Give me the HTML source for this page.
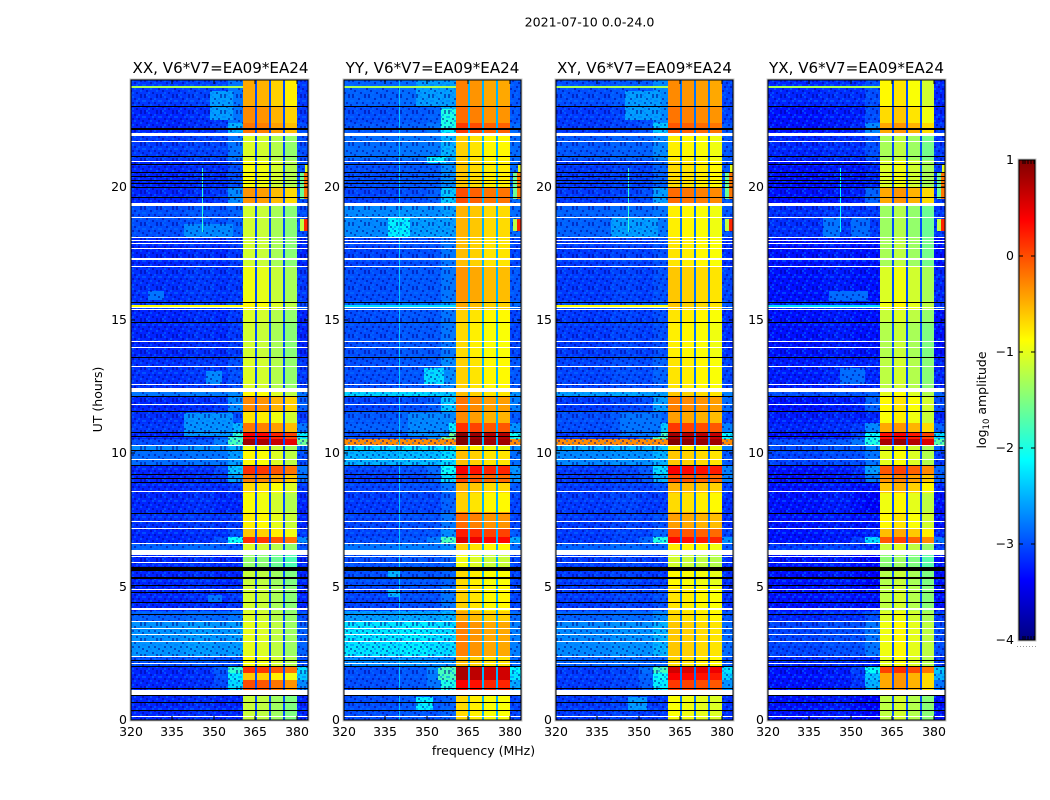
<!DOCTYPE html>
<html>
<head>
<meta charset="utf-8">
<title>2021-07-10 0.0-24.0</title>
<style>
html,body{margin:0;padding:0;background:#fff;width:1050px;height:800px;overflow:hidden}
svg{display:block}
text{font-family:"DejaVu Sans","Liberation Sans",sans-serif;fill:#000}
</style>
</head>
<body>
<svg id="fig" xmlns="http://www.w3.org/2000/svg" width="1050" height="800" viewBox="0 0 1050 800">
  <text x="589.5" y="26.5" font-size="12.6" text-anchor="middle">2021-07-10 0.0-24.0</text>
  <text x="220.5" y="73" font-size="15.1" text-anchor="middle">XX, V6*V7=EA09*EA24</text>
  <text x="432.5" y="73" font-size="15.1" text-anchor="middle">YY, V6*V7=EA09*EA24</text>
  <text x="644.5" y="73" font-size="15.1" text-anchor="middle">XY, V6*V7=EA09*EA24</text>
  <text x="856.5" y="73" font-size="15.1" text-anchor="middle">YX, V6*V7=EA09*EA24</text>
  <defs>
    <linearGradient id="jet-gradient" x1="0" y1="1" x2="0" y2="0"></linearGradient>
    <pattern id="speckle" x="0" y="0" width="16" height="16" patternUnits="userSpaceOnUse">
      <g fill="#000090" fill-opacity="0.5" shape-rendering="crispEdges">
        <rect x="0" y="0" width="2" height="2"/><rect x="6" y="2" width="2" height="2"/><rect x="12" y="0" width="2" height="2"/>
        <rect x="4" y="6" width="2" height="2"/><rect x="10" y="6" width="2" height="2"/><rect x="2" y="10" width="2" height="2"/>
        <rect x="14" y="8" width="2" height="2"/><rect x="8" y="12" width="2" height="2"/><rect x="0" y="14" width="2" height="2"/>
        <rect x="12" y="14" width="2" height="2"/>
      </g>
      <g fill="#0078ff" fill-opacity="0.5" shape-rendering="crispEdges">
        <rect x="4" y="0" width="2" height="2"/><rect x="10" y="2" width="2" height="2"/><rect x="0" y="4" width="2" height="2"/>
        <rect x="8" y="4" width="2" height="2"/><rect x="14" y="4" width="2" height="2"/><rect x="6" y="8" width="2" height="2"/>
        <rect x="2" y="14" width="2" height="2"/><rect x="12" y="10" width="2" height="2"/><rect x="4" y="12" width="2" height="2"/>
      </g>
    </pattern>
  </defs>
  <g id="panels"></g>
  <text x="483.5" y="755" font-size="12.5" text-anchor="middle">frequency (MHz)</text>
  <text transform="translate(102,399.5) rotate(-90)" font-size="12.5" text-anchor="middle">UT (hours)</text>
  <g id="colorbar"></g>
  <text transform="translate(986,400) rotate(-90)" font-size="12.5" text-anchor="middle">log<tspan font-size="8.5" dy="3">10</tspan><tspan dy="-3"> amplitude</tspan></text>
</svg>
<script>
// Axis tick labels
const freqTicks = [320, 335, 350, 365, 380];
const utTicks = [0, 5, 10, 15, 20];
const cbarTicks = [1, 0, -1, -2, -3, -4];
const cbarMinorTicks = [1, 2, 3, 4, 5];

// Frequency structure of every heatmap row (MHz)
const freqEdges = [320, 340, 350, 355, 360.6, 364.9, 365.7, 370, 370.8, 375, 375.8, 380.1, 384];

// Time blocks of the heatmap (UT hours)
const utEdges = [0, 1.1, 1.5, 1.75, 2, 2.4, 3.7, 4.1, 5, 5.6, 6.2, 6.6, 6.85, 7.15, 7.8, 8.5, 8.9, 9.2, 9.55, 10.1, 10.27, 10.55, 10.8, 11.15, 11.55, 12.1, 12.4, 13.6, 14.9, 15.4, 15.7, 17, 18.1, 19.3, 19.95, 21, 22, 22.4, 23, 24];

// log10 amplitude in the 360-380 MHz band, one per time block
const bandXX = [-1.2, -.05, -.65, .1, -.95, -1.05, -1.1, -1.15, -1.2, -1.45, -1.1, .1, -.65, -.85, -.95, -.75, -.3, .1, -.9, -1, .8, .35, -.25, -.8, -.35, -.9, -1.1, -1.15, -1.1, -.9, -1, -1.15, -1.15, -.4, -.95, -1.1, -.25, -.35, -.5];
const bandYY = [-.85, .25, .65, .65, -.7, -.4, -.6, -.8, -.85, -1.1, -.8, .4, .1, -.3, -.8, -.65, -.1, .25, -.7, -.9, .9, .8, 0, -.45, -.35, -.7, -.8, -.85, -.8, -.6, -.5, -.7, -.65, -.15, -.75, -.8, -.05, -.3, -.4];
const bandXY = [-1, 0, .3, .5, -.8, -.7, -.8, -.85, -.95, -1.2, -.9, .25, -.1, -.5, -.8, -.6, -.1, .3, -.7, -.9, .9, .7, 0, -.5, -.35, -.7, -.85, -.9, -.85, -.7, -.7, -.85, -.9, -.25, -.8, -.9, -.15, -.3, -.4];
const bandYX = [-1.2, -.45, -.45, .05, -1, -.95, -1.05, -1.2, -1.25, -1.45, -1.15, -.05, -.55, -.85, -.95, -.6, -.35, -.05, -1, -1.05, .8, .3, -.45, -.9, -.85, -1, -1.2, -1.25, -1.15, -.95, -1.05, -1.3, -1.35, -.45, -1.05, -1.3, -.45, -.7, -.85];

// log10 amplitude of the 320-355 MHz background, one per time block
const backXX = [-3.2, -3.2, -3.2, -3.2, -3, -2.65, -2.9, -3.2, -3.2, -3.2, -2.9, -3.2, -3.2, -3.15, -3.2, -3.2, -3.2, -3.2, -2.85, -2.7, -3, -3.2, -3.1, -3.15, -3.2, -2.8, -3.15, -3.2, -3.2, -3.1, -3.15, -3.2, -3, -3.2, -3.2, -3.1, -3.2, -3.2, -3.1];
const backYY = [-3, -3, -3, -3, -2.7, -2.25, -2.6, -3.05, -3, -3, -2.8, -3, -3.05, -3.05, -3.1, -3.05, -3.1, -3.05, -2.5, -2.3, -.3, -3, -2.9, -2.95, -3.05, -2.35, -3, -3, -3, -2.9, -3, -3.05, -2.7, -3.05, -3, -2.85, -2.95, -3, -2.9];
const backXY = [-3.1, -3.1, -3.1, -3.1, -2.9, -2.7, -2.9, -3.1, -3.1, -3.1, -2.9, -3.1, -3.1, -3.1, -3.1, -3.1, -3.1, -3.1, -2.7, -2.5, -.3, -3.1, -3, -3, -3.1, -2.6, -3.05, -3.1, -3.1, -3, -3.1, -3.1, -2.9, -3.1, -3.1, -2.95, -3.1, -3.1, -3];
const backYX = [-3.3, -3.3, -3.3, -3.3, -3.2, -3.05, -3.2, -3.3, -3.3, -3.3, -3.1, -3.3, -3.3, -3.3, -3.3, -3.3, -3.3, -3.3, -3.05, -3, -3, -3.3, -3.2, -3.25, -3.3, -3, -3.25, -3.3, -3.3, -3.2, -3.3, -3.3, -3.15, -3.3, -3.3, -3.2, -3.3, -3.3, -3.2];

// log10 amplitude just below the band and above it, one per time block
const shoulderLevels = [-3.2, -2.3, -2.2, -1.9, -3, -2.6, -2.8, -3.1, -3.2, -3.2, -3, -2.1, -3, -3.1, -3.2, -3.1, -2.6, -2.4, -2.6, -2.5, -1.8, -1.9, -2.5, -3, -2.7, -2.7, -3, -3.1, -3.1, -3, -3.1, -3.1, -2.9, -2.7, -3, -2.8, -2.5, -2.8, -2.8];
const edgeLevels = [-3.2, -2.7, -2.4, -2.3, -3, -2.9, -3, -3.2, -3.2, -3.2, -3, -2.7, -3.1, -3.2, -3.2, -3.1, -2.8, -2.8, -3, -2.8, -1.6, -2.2, -2.8, -3.1, -2.9, -2.8, -3.1, -3.2, -3.2, -3, -3.1, -3.2, -3, -3, -3, -3, -3, -3.1, -3.1];

// Per-panel offsets: XX, YY, XY, YX
const shoulderOffsets = [0, .3, .1, -.2];
const notchLevels = [-3, -2.5, -2.8, -3];
const subbandXX = [.05, 0, -.15, -.3];
const subbandYY = [.15, .05, -.05, -.05];
const subbandXY = [.1, .05, 0, -.05];
const subbandYX = [0, .1, -.05, -.25];

// Localised emission patches: [freq start, freq end, UT start, UT end, log10 amplitude]
const patchesXX = [[348.6, 357, 22.5, 23.6, -2.6], [339, 357, 18.1, 18.6, -2.7], [339, 357, 10.6, 11.5, -2.65], [347, 353, 12.6, 13.1, -2.7], [326, 332, 15.75, 16.1, -2.8], [348, 353, 4.4, 4.7, -2.8]];
const patchesYY = [[320, 360.6, 10.27, 10.55, -.3], [380.1, 384, 10.27, 10.55, -.3], [336, 344, 18.1, 18.85, -2.2], [345, 355, 18.1, 18.85, -2.6], [350, 357, 20.9, 21.15, -2.2], [349, 356, 12.6, 13.2, -2.3], [343, 358, 10.6, 11.5, -2.7], [336, 340, 5.35, 5.6, -2.5], [336, 340, 4.6, 4.9, -2.5], [346, 352, .35, .85, -2.2], [354, 360.6, 1.5, 1.95, -1.8], [346, 360.6, 23, 24, -2.6], [355, 360.6, 22.2, 22.9, -2]];
const patchesXY = [[320, 360.6, 10.27, 10.55, -.3], [380.1, 384, 10.27, 10.55, -.3], [340, 350, 18.1, 18.85, -2.6], [350, 357, 18.1, 18.85, -2.6], [345, 358, 22.5, 23.6, -2.6], [343, 358, 10.6, 11.5, -2.8], [346, 353, .35, .85, -2.6]];
const patchesYX = [[340, 346, 18.1, 18.85, -2.8], [350, 357, 18.1, 18.85, -2.85], [342, 356, 15.7, 16.1, -2.85], [346, 355, 12.6, 13.2, -2.85]];

// Flare at the top of the band, common to all panels
const flarePatches = [[381, 382.5, 18.35, 18.8, -1.2], [382.5, 384, 18.35, 18.8, .2], [381, 382.5, 19.55, 20.5, -1.6], [382.5, 384, 19.55, 20.5, -.2], [383, 384, 20.5, 20.8, -1]];

// Broadband spikes: [UT, log10 amplitude]
const spikesXX = [[23.75, -1.3], [15.52, -.9], [4.17, -1.1]];
const spikesYY = [[23.75, -1.3], [15.52, -2.3], [4.17, -1.1]];
const spikesXY = [[23.75, -1.3], [15.52, -.9], [4.17, -1.1]];
const spikesYX = [[23.75, -1.3], [15.52, -2.3], [4.17, -1.1]];

// Narrowband interference: [freq, UT start, UT end, log10 amplitude]
const vlinesXX = [[345.7, 18.3, 20.7, -1.9]];
const vlinesYY = [[340, 0, 24, -2.4]];
const vlinesXY = [[346, 18.3, 20.7, -1.9]];
const vlinesYX = [[346, 18.3, 20.7, -2.1]];

// Flagged data, shared by all panels (UT hours)
const whiteBands = [[21.9, 22.01], [19.28, 19.39], [12.31, 12.45], [6.19, 6.375], [.94, 1.125], [17.25, 17.31]];
const whiteRows = [21.68, 20.91, 18.83, 18.08, 17.96, 17.85, 17.66, 17, 15.45, 15.38, 14.18, 13.95, 13.24, 12.57, 11.81, 10.27, 9.75, 8.55, 7.43, 7.16, 6.6, 6.11, 5.89, 4.875, 4.17, 4.12, 3.675, 3.41, 3.19, 2.925, 2.37, 2.1, .11];
const blackBands = [[5.6, 5.74], [22.14, 22.2], [5.3, 5.35]];
const blackRows = [22.99, 21.11, 20.81, 20.52, 20.37, 20.22, 20.1, 19.95, 19.575, 15.62, 14.89, 13.575, 12.12, 11.55, 10.77, 10.62, 10.1, 9.54, 9.19, 9.05, 8.9, 7.725, 5.04, 4.775, 4.4, 3.94, 2.22, 1.99, 1.16, .91, .65, .35];

const panelNames = ['xx', 'yy', 'xy', 'yx'];
const panelBand = [bandXX, bandYY, bandXY, bandYX];
const panelBack = [backXX, backYY, backXY, backYX];
const panelSub = [subbandXX, subbandYY, subbandXY, subbandYX];
const panelPatches = [patchesXX, patchesYY, patchesXY, patchesYX];
const panelSpikes = [spikesXX, spikesYY, spikesXY, spikesYX];
const panelVlines = [vlinesXX, vlinesYY, vlinesXY, vlinesYX];

const axesLeft = [131, 344, 556, 768];
const axesWidth = 177, axesTop = 80, axesBottom = 720;
const cLeft = 1019, cRight = 1035, cTop = 160, cBottom = 640;
const NS = 'http://www.w3.org/2000/svg';

function mk(tag, attrs, parent) {
  const el = document.createElementNS(NS, tag);
  for (const k in attrs) el.setAttribute(k, attrs[k]);
  parent.appendChild(el);
  return el;
}
function clip01(v) { return Math.max(0, Math.min(1, v)); }
function jet(level) {
  const n = clip01((level + 4) / 5);
  const r = clip01(Math.min(4 * n - 1.5, -4 * n + 4.5));
  const g = clip01(Math.min(4 * n - .5, -4 * n + 3.5));
  const b = clip01(Math.min(4 * n + .5, -4 * n + 2.5));
  return 'rgb(' + Math.round(r * 255) + ',' + Math.round(g * 255) + ',' + Math.round(b * 255) + ')';
}
function xScale(left, f) { return left + (f - 320) * axesWidth / 64; }
function yScale(u) { return axesBottom - u * (axesBottom - axesTop) / 24; }
function clampY(y) { return Math.max(axesTop, Math.min(axesBottom, y)); }
function block(g, left, f0, f1, u0, u1, fill) {
  const x0 = Math.round(xScale(left, f0)), x1 = Math.round(xScale(left, f1));
  const y0 = Math.round(clampY(yScale(u1))), y1 = Math.round(clampY(yScale(u0)));
  return mk('rect', {x: x0, y: y0, width: Math.max(1, x1 - x0), height: Math.max(1, y1 - y0), fill: fill, 'shape-rendering': 'crispEdges'}, g);
}
function colLevel(p, b, c) {
  const back = panelBack[p][b], band = panelBand[p][b], sub = panelSub[p];
  if (c === 0) return back;
  if (c === 1) return back + .05;
  if (c === 2) return back + (shoulderLevels[b] + shoulderOffsets[p] - back) * .2;
  if (c === 3) return shoulderLevels[b] + shoulderOffsets[p];
  if (c === 4) return band + sub[0];
  if (c === 5 || c === 7 || c === 9) return notchLevels[p];
  if (c === 6) return band + sub[1];
  if (c === 8) return band + sub[2];
  if (c === 10) return band + sub[3];
  return edgeLevels[b] + shoulderOffsets[p] * .5;
}

const panelsRoot = document.getElementById('panels');
panelNames.forEach(function (name, p) {
  const left = axesLeft[p];
  const g = mk('g', {}, panelsRoot);
  
  

  for (let b = 0; b + 1 < utEdges.length; b++) {
    for (let c = 0; c + 1 < freqEdges.length; c++) {
      const cell = block(g, left, freqEdges[c], freqEdges[c + 1], utEdges[b], utEdges[b + 1], jet(colLevel(p, b, c)));
      
      
    }
  }
  panelPatches[p].forEach(function (q) {
    const patch = block(g, left, q[0], q[1], q[2], q[3], jet(q[4]));
    
    
  });
  const tex1 = block(g, left, 320, 360.6, 0, 24, 'url(#speckle)');
  
  
  const tex2 = block(g, left, 380.1, 384, 0, 24, 'url(#speckle)');
  
  
  flarePatches.forEach(function (q) {
    const flare = block(g, left, q[0], q[1], q[2], q[3], jet(q[4]));
    
    
  });
  panelVlines[p].forEach(function (v) {
    const line = block(g, left, v[0], v[0] + .36, v[1], v[2], jet(v[3]));
    
    
  });
  panelSpikes[p].forEach(function (s) {
    const spike = block(g, left, 320, 360.6, s[0] - .04, s[0] + .04, jet(s[1]));
    
    
  });
  whiteBands.forEach(function (w) {
    const gap = block(g, left, 320, 384, w[0], w[1], '#fff');
    
    
  });
  whiteRows.forEach(function (u) {
    const gap = block(g, left, 320, 384, u, u + .0375, '#fff');
    
    
  });
  blackBands.forEach(function (w) {
    const gap = block(g, left, 320, 384, w[0], w[1], '#000');
    
    
  });
  blackRows.forEach(function (u) {
    const gap = block(g, left, 320, 384, u, u + .0375, '#000');
    
    
  });

  const halo = mk('rect', {x: left - 1, y: axesTop - 1, width: axesWidth + 2, height: axesBottom - axesTop + 2, fill: 'none', stroke: '#c4c4c4', 'stroke-width': 1, 'shape-rendering': 'crispEdges'}, g);
  
  
  const frame = mk('rect', {x: left, y: axesTop, width: axesWidth, height: axesBottom - axesTop, fill: 'none', stroke: '#000', 'stroke-width': 1, 'shape-rendering': 'crispEdges'}, g);
  
  

  freqTicks.forEach(function (f) {
    const x = Math.round(xScale(left, f));
    const t1 = mk('line', {x1: x, x2: x, y1: axesBottom, y2: axesBottom - 4, stroke: '#000', 'shape-rendering': 'crispEdges'}, g);
    
    
    const t2 = mk('line', {x1: x, x2: x, y1: axesTop, y2: axesTop + 4, stroke: '#000', 'shape-rendering': 'crispEdges'}, g);
    
    
    const lab = mk('text', {x: x, y: 736, 'font-size': 12.5, 'text-anchor': 'middle'}, g);
    lab.textContent = String(f);
    
    
  });
  utTicks.forEach(function (u) {
    const y = Math.round(yScale(u));
    const t1 = mk('line', {x1: left, x2: left + 4, y1: y, y2: y, stroke: '#000', 'shape-rendering': 'crispEdges'}, g);
    
    
    const t2 = mk('line', {x1: left + axesWidth, x2: left + axesWidth - 4, y1: y, y2: y, stroke: '#000', 'shape-rendering': 'crispEdges'}, g);
    
    
    const lab = mk('text', {x: left - 4, y: y + 4, 'font-size': 12.5, 'text-anchor': 'end'}, g);
    lab.textContent = String(u);
    
    
  });
});

// Colorbar
const grad = document.getElementById('jet-gradient');
for (let i = 0; i <= 32; i++) {
  mk('stop', {offset: i / 32, 'stop-color': jet(-4 + 5 * i / 32)}, grad);
}
const cg = document.getElementById('colorbar');
function cbarY(v) { return cTop + (1 - v) * (cBottom - cTop) / 5; }
const cHalo = mk('rect', {x: cLeft - 1, y: cTop - 1, width: cRight - cLeft + 2, height: cBottom - cTop + 2, fill: 'none', stroke: '#c4c4c4', 'shape-rendering': 'crispEdges'}, cg);


const cBar = mk('rect', {x: cLeft, y: cTop, width: cRight - cLeft, height: cBottom - cTop, fill: 'url(#jet-gradient)', stroke: '#000', 'stroke-width': 1, 'shape-rendering': 'crispEdges'}, cg);


cbarTicks.forEach(function (v) {
  const y = Math.round(cbarY(v));
  const t1 = mk('line', {x1: cLeft, x2: cLeft + 4, y1: y, y2: y, stroke: '#000', 'shape-rendering': 'crispEdges'}, cg);
  
  
  const t2 = mk('line', {x1: cRight, x2: cRight - 4, y1: y, y2: y, stroke: '#000', 'shape-rendering': 'crispEdges'}, cg);
  
  
  const lab = mk('text', {x: cLeft - 5, y: y + 4, 'font-size': 12.5, 'text-anchor': 'end'}, cg);
  lab.textContent = (v < 0 ? '\u2212' : '') + Math.abs(v);
  
  
});
cbarMinorTicks.forEach(function (i) {
  const x = cLeft + Math.round(i * 2.7) + 1;
  const t1 = mk('line', {x1: x, x2: x, y1: cTop, y2: cTop + 4, stroke: '#000', 'shape-rendering': 'crispEdges'}, cg);
  
  
  const t2 = mk('line', {x1: x, x2: x, y1: cBottom, y2: cBottom - 4, stroke: '#000', 'shape-rendering': 'crispEdges'}, cg);
  
  
});
const cDots = mk('line', {x1: 1017, x2: 1036, y1: 646.5, y2: 646.5, stroke: '#999', 'stroke-dasharray': '1 2'}, cg);


</script>
</body>
</html>
